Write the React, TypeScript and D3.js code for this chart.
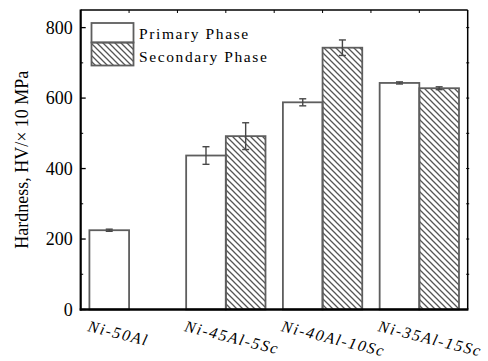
import React from "react";
import * as d3 from "d3";

const categories = ["Ni-50Al", "Ni-45Al-5Sc", "Ni-40Al-10Sc", "Ni-35Al-15Sc"];
const primaryValues = [225, 437, 588, 643];
const primaryErrors = [3, 25, 10, 3];
const secondaryValues: (number | null)[] = [null, 492, 743, 628];
const secondaryErrors: (number | null)[] = [null, 38, 22, 4];
const yMajorTicks = [0, 200, 400, 600, 800];
const yMinorTicks = [100, 300, 500, 700];
const seriesNames = ["Primary Phase", "Secondary Phase"];

const W = 488;
const H = 361;
const left = 80.7;
const right = 467.7;
const top = 10;
const bottom = 309.5;
const FONT = "'Liberation Serif', 'Times New Roman', Times, serif";

export default function App() {
  const x = d3.scaleLinear().domain([0.5, categories.length + 0.5]).range([left, right]);
  const y = d3.scaleLinear().domain([0, 850]).range([bottom, top]);
  const bw = x(1.41) - x(1);
  const topTicks = d3.range(1, categories.length + 0.01, 0.5);
  const rightTicks = d3.range(100, 850, 100);
  const barStroke = "#5e5e5e";
  const errColor = "#474747";
  const cap = 3.5;

  const errBar = (cx: number, v: number, e: number, key: string) => (
    <g key={key} stroke={errColor} strokeWidth={1.4}>
      <line x1={cx} x2={cx} y1={y(v + e)} y2={y(v - e)} />
      <line x1={cx - cap} x2={cx + cap} y1={y(v + e)} y2={y(v + e)} />
      <line x1={cx - cap} x2={cx + cap} y1={y(v - e)} y2={y(v - e)} />
    </g>
  );

  return (
    <svg width={W} height={H} style={{ position: "absolute", left: 0, top: 0 }}>
      <defs>
        <pattern id="hatch" patternUnits="userSpaceOnUse" width={6} height={6}>
          <path d="M0,0 L6,6 M-1,5 L1,7 M5,-1 L7,1" stroke="#555" strokeWidth={1.3} />
        </pattern>
      </defs>
      <rect x={0} y={0} width={W} height={H} fill="#fff" />

      {/* bars */}
      {primaryValues.map((v, i) => (
        <rect
          key={"p" + i}
          x={x(i + 1) - bw}
          y={y(v)}
          width={bw}
          height={y(0) - y(v)}
          fill="#fff"
          stroke={barStroke}
          strokeWidth={1.8}
        />
      ))}
      {secondaryValues.map((v, i) =>
        v == null ? null : (
          <rect
            key={"s" + i}
            x={x(i + 1)}
            y={y(v)}
            width={bw}
            height={y(0) - y(v)}
            fill="url(#hatch)"
            stroke={barStroke}
            strokeWidth={1.8}
          />
        )
      )}
      {primaryValues.map((v, i) => errBar(x(i + 1) - bw / 2, v, primaryErrors[i], "pe" + i))}
      {secondaryValues.map((v, i) =>
        v == null ? null : errBar(x(i + 1) + bw / 2, v, secondaryErrors[i] as number, "se" + i)
      )}

      {/* frame */}
      <line x1={left} x2={right} y1={top} y2={top} stroke="#000" strokeWidth={1.5} />
      <line x1={right} x2={right} y1={top} y2={bottom} stroke="#000" strokeWidth={1.5} />
      <line x1={left} x2={left} y1={top - 0.5} y2={bottom + 1} stroke="#000" strokeWidth={2.2} />
      <line x1={left - 1} x2={right + 0.7} y1={bottom} y2={bottom} stroke="#000" strokeWidth={2.4} />

      {/* top ticks */}
      {topTicks.map((t) => (
        <line key={"tt" + t} x1={x(t)} x2={x(t)} y1={top} y2={top + 3} stroke="#000" strokeWidth={1} />
      ))}
      {/* right ticks */}
      {rightTicks.map((t) => (
        <line key={"rt" + t} x1={right - 1.5} x2={right + 1.5} y1={y(t)} y2={y(t)} stroke="#000" strokeWidth={1} />
      ))}
      {/* left ticks */}
      {yMajorTicks.map((t) => (
        <line key={"lm" + t} x1={left} x2={left + 5} y1={y(t)} y2={y(t)} stroke="#000" strokeWidth={1.3} />
      ))}
      {yMinorTicks.map((t) => (
        <line key={"ln" + t} x1={left} x2={left + 2.5} y1={y(t)} y2={y(t)} stroke="#000" strokeWidth={1} />
      ))}
      {yMajorTicks.map((t) => (
        <text
          key={"yl" + t}
          x={left - 8}
          y={y(t)}
          dy="0.35em"
          textAnchor="end"
          fontFamily={FONT}
          fontSize={18}
          fill="#000"
        >
          {t}
        </text>
      ))}

      {/* y axis title */}
      <text
        transform={`translate(28,${(top + bottom) / 2}) rotate(-90)`}
        textAnchor="middle"
        fontFamily={FONT}
        fontSize={18}
        fill="#000"
      >
        Hardness, HV/× 10 MPa
      </text>

      {/* x labels */}
      {categories.map((c, i) => (
        <text
          key={"xl" + i}
          transform={`translate(${x(i + 1) - 42},331) rotate(14)`}
          fontFamily={FONT}
          fontStyle="italic"
          fontSize={16}
          letterSpacing={1.6}
          fill="#000"
        >
          {c}
        </text>
      ))}

      {/* legend */}
      <rect x={91.5} y={23} width={42} height={19.5} fill="#fff" stroke={barStroke} strokeWidth={1.8} />
      <rect x={91.5} y={42.5} width={42} height={23} fill="url(#hatch)" stroke={barStroke} strokeWidth={1.8} />
      <text x={139} y={39} fontFamily={FONT} fontSize={15.5} letterSpacing={1.6} fill="#000">
        {seriesNames[0]}
      </text>
      <text x={139} y={62} fontFamily={FONT} fontSize={15.5} letterSpacing={1.6} fill="#000">
        {seriesNames[1]}
      </text>
    </svg>
  );
}
